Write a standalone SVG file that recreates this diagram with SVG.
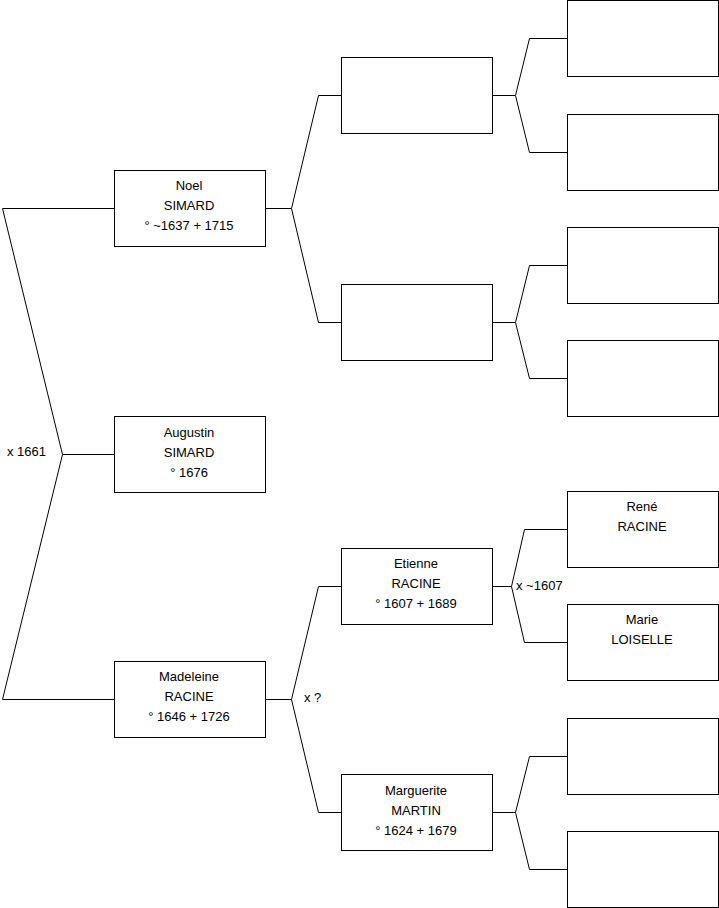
<svg xmlns="http://www.w3.org/2000/svg" width="719" height="908" viewBox="0 0 719 908">
<style>
.box{fill:#fff;stroke:#000;stroke-width:1}
.ln{fill:none;stroke:#000;stroke-width:1}
text{font-family:"Liberation Sans",Arial,sans-serif;font-size:13px;fill:#000}
.c{text-anchor:middle}
</style>
<rect width="719" height="908" fill="#fff"/>
<g id="connectors">
<polyline class="ln" points="114.5,454.5 62.5,454.5 2.5,208.5 114.5,208.5"/>
<polyline class="ln" points="62.5,454.5 2.5,699.5 114.5,699.5"/>
<polyline class="ln" points="265.5,208.5 291.5,208.5 318.5,95.5 341.5,95.5"/>
<polyline class="ln" points="291.5,208.5 318.5,322.5 341.5,322.5"/>
<polyline class="ln" points="265.5,699.5 291.5,699.5 318.5,586.5 341.5,586.5"/>
<polyline class="ln" points="291.5,699.5 318.5,812.5 341.5,812.5"/>
<polyline class="ln" points="492.5,95.5 515.5,95.5 529.5,38.5 567.5,38.5"/>
<polyline class="ln" points="515.5,95.5 529.5,152.5 567.5,152.5"/>
<polyline class="ln" points="492.5,322.5 515.5,322.5 529.5,265.5 567.5,265.5"/>
<polyline class="ln" points="515.5,322.5 529.5,378.5 567.5,378.5"/>
<polyline class="ln" points="492.5,586.5 511.5,586.5 524.5,529.5 567.5,529.5"/>
<polyline class="ln" points="511.5,586.5 524.5,642.5 567.5,642.5"/>
<polyline class="ln" points="492.5,812.5 515.5,812.5 529.5,756.5 567.5,756.5"/>
<polyline class="ln" points="515.5,812.5 529.5,869.5 567.5,869.5"/>
<text x="7" y="456">x 1661</text>
<text x="304" y="702">x ?</text>
<text x="516" y="590">x ~1607</text>
</g>
<g id="noel"><rect class="box" x="114.5" y="170.5" width="151" height="76"/>
<text class="c" x="189" y="190">Noel</text><text class="c" x="189" y="210">SIMARD</text><text class="c" x="189" y="230">° ~1637 + 1715</text></g>
<g id="augustin"><rect class="box" x="114.5" y="416.5" width="151" height="76"/>
<text class="c" x="189" y="437">Augustin</text><text class="c" x="189" y="457">SIMARD</text><text class="c" x="189" y="477">° 1676</text></g>
<g id="madeleine"><rect class="box" x="114.5" y="661.5" width="151" height="76"/>
<text class="c" x="189" y="681">Madeleine</text><text class="c" x="189" y="701">RACINE</text><text class="c" x="189" y="721">° 1646 + 1726</text></g>
<g id="f1"><rect class="box" x="341.5" y="57.5" width="151" height="76"/></g>
<g id="m1"><rect class="box" x="341.5" y="284.5" width="151" height="76"/></g>
<g id="etienne"><rect class="box" x="341.5" y="548.5" width="151" height="76"/>
<text class="c" x="416" y="568">Etienne</text><text class="c" x="416" y="588">RACINE</text><text class="c" x="416" y="608">° 1607 + 1689</text></g>
<g id="marguerite"><rect class="box" x="341.5" y="774.5" width="151" height="76"/>
<text class="c" x="416" y="795">Marguerite</text><text class="c" x="416" y="815">MARTIN</text><text class="c" x="416" y="835">° 1624 + 1679</text></g>
<g id="g1"><rect class="box" x="567.5" y="0.5" width="151" height="76"/></g>
<g id="g2"><rect class="box" x="567.5" y="114.5" width="151" height="76"/></g>
<g id="g3"><rect class="box" x="567.5" y="227.5" width="151" height="76"/></g>
<g id="g4"><rect class="box" x="567.5" y="340.5" width="151" height="76"/></g>
<g id="rene"><rect class="box" x="567.5" y="491.5" width="151" height="76"/>
<text class="c" x="642" y="511">René</text><text class="c" x="642" y="531">RACINE</text></g>
<g id="marie"><rect class="box" x="567.5" y="604.5" width="151" height="76"/>
<text class="c" x="642" y="624">Marie</text><text class="c" x="642" y="644">LOISELLE</text></g>
<g id="g7"><rect class="box" x="567.5" y="718.5" width="151" height="76"/></g>
<g id="g8"><rect class="box" x="567.5" y="831.5" width="151" height="76"/></g>
</svg>
